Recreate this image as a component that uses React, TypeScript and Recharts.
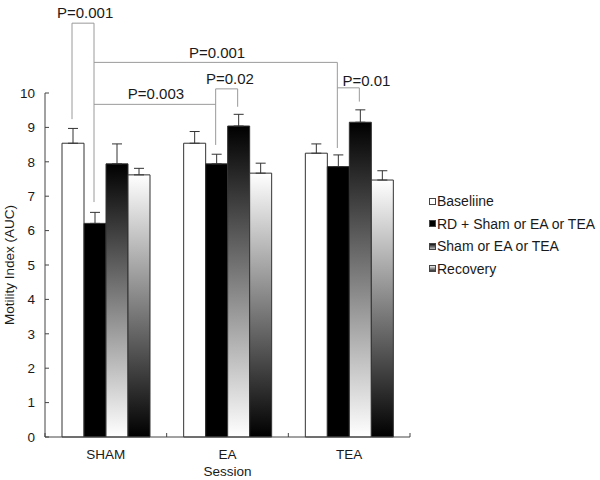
import React from 'react';
import { BarChart, Bar, XAxis, YAxis, ErrorBar, Legend, ReferenceLine, ReferenceDot } from 'recharts';

// ---- data ----
const categories = ['SHAM', 'EA', 'TEA'];
const seriesKeys = ['baseline', 'rdStim', 'stim', 'recovery'];
const seriesNames = ['Baseliine', 'RD + Sham or EA or TEA', 'Sham or EA or TEA', 'Recovery'];
const baseline = [8.54, 8.54, 8.25];
const baselineErr = [0.43, 0.34, 0.27];
const rdStim = [6.21, 7.94, 7.86];
const rdStimErr = [0.32, 0.28, 0.34];
const stim = [7.94, 9.04, 9.15];
const stimErr = [0.58, 0.34, 0.36];
const recovery = [7.62, 7.67, 7.47];
const recoveryErr = [0.19, 0.29, 0.27];
const yTicks = [0, 1, 2, 3, 4, 5, 6, 7, 8, 9, 10];
const boundaryTicks = [0, 1, 2, 3];

// significance brackets: endpoints as [category, bar index] and value (AUC)
const bracketSegments: { a: [number, number]; ya: number; b: [number, number]; yb: number }[] = [
  { a: [0, 0], ya: 9.24, b: [0, 0], yb: 12.03 },
  { a: [0, 0], ya: 12.03, b: [0, 1], yb: 12.03 },
  { a: [0, 1], ya: 12.03, b: [0, 1], yb: 6.83 },
  { a: [0, 1], ya: 10.89, b: [2, 1], yb: 10.89 },
  { a: [2, 1], ya: 10.89, b: [2, 1], yb: 8.4 },
  { a: [0, 1], ya: 9.67, b: [1, 1], yb: 9.67 },
  { a: [1, 1], ya: 10.12, b: [1, 1], yb: 8.49 },
  { a: [1, 1], ya: 10.12, b: [1, 2], yb: 10.12 },
  { a: [1, 2], ya: 10.12, b: [1, 2], yb: 9.6 },
  { a: [2, 1], ya: 10.15, b: [2, 2], yb: 10.15 },
  { a: [2, 2], ya: 10.15, b: [2, 2], yb: 9.75 },
];
const pLabels = ['P=0.001', 'P=0.001', 'P=0.003', 'P=0.02', 'P=0.01'];
const pLabelX = [0.33, 1.414, 0.912, 1.52, 2.642];
const pLabelY = [12.33, 11.16, 9.97, 10.41, 10.36];

// ---- layout ----
const W = 600;
const H = 480;
const MARGIN = { top: 93, right: 190, bottom: 0, left: 0 };
const Y_AXIS_W = 45;
const PLOT_W = W - MARGIN.left - MARGIN.right - Y_AXIS_W;
const BAR = 22;
const BAND = PLOT_W / categories.length;
const OFFSET = Math.floor((BAND - BAR * 4) / 2);
const barX = (cat: number, bar: number) => cat + (OFFSET + BAR * (bar + 0.5)) / BAND;

const FONT = '"Liberation Sans", Arial, Helvetica, sans-serif';
const TEXT = '#1a1a1a';
const AXIS = '#444';
const BRACKET = '#9a9a9a';

const data = categories.map((c, i) => ({
  name: c,
  pos: i + 0.5,
  baseline: baseline[i],
  baselineErr: [0, baselineErr[i]],
  rdStim: rdStim[i],
  rdStimErr: [0, rdStimErr[i]],
  stim: stim[i],
  stimErr: [0, stimErr[i]],
  recovery: recovery[i],
  recoveryErr: [0, recoveryErr[i]],
}));

const swatch: Record<string, React.CSSProperties> = {
  baseline: { background: '#fff' },
  rdStim: { background: '#000' },
  stim: { background: 'linear-gradient(#111, #bbb)' },
  recovery: { background: 'linear-gradient(#eee, #333)' },
};

const LegendContent = (props: any) => {
  const items = [...(props.payload || [])].sort(
    (a: any, b: any) => seriesKeys.indexOf(String(a.dataKey)) - seriesKeys.indexOf(String(b.dataKey))
  );
  return (
    <div style={{ fontFamily: FONT, fontSize: 14, color: TEXT }}>
      {items.map((p: any) => (
        <div
          key={String(p.dataKey)}
          style={{ display: 'flex', alignItems: 'center', height: 22.5, whiteSpace: 'nowrap' }}
        >
          <span
            style={{
              display: 'inline-block',
              width: 5,
              height: 5,
              border: '1px solid #444',
              marginRight: 1,
              ...swatch[String(p.dataKey)],
            }}
          />
          <span>{p.value}</span>
        </div>
      ))}
    </div>
  );
};

const YLabel = (p: any) => {
  const vb = p.viewBox || { x: 0, y: 0, width: 0, height: 0 };
  const cx = vb.x + 9;
  const cy = vb.y + vb.height / 2;
  return (
    <text
      x={cx}
      y={cy}
      transform={`rotate(-90 ${cx} ${cy})`}
      textAnchor="middle"
      dominantBaseline="central"
      fontSize={13.5}
      fontFamily={FONT}
      fill={TEXT}
    >
      Motility Index (AUC)
    </text>
  );
};

const XLabel = (p: any) => {
  const vb = p.viewBox || { x: 0, y: 0, width: 0, height: 0 };
  return (
    <text
      x={vb.x + vb.width / 2}
      y={vb.y + 33}
      textAnchor="middle"
      dominantBaseline="central"
      fontSize={13.5}
      fontFamily={FONT}
      fill={TEXT}
    >
      Session
    </text>
  );
};

const EmptyTick = () => <g />;

export default function App() {
  return (
    <div style={{ position: 'absolute', left: 0, top: 0, width: W, height: H, background: '#fff' }}>
      <BarChart width={W} height={H} data={data} margin={MARGIN} barSize={BAR} barGap={0}>
        <defs>
          <linearGradient id="gradStim" x1="0" y1="0" x2="0" y2="1">
            <stop offset="0%" stopColor="#000" />
            <stop offset="100%" stopColor="#fff" />
          </linearGradient>
          <linearGradient id="gradRec" x1="0" y1="0" x2="0" y2="1">
            <stop offset="0%" stopColor="#fff" />
            <stop offset="100%" stopColor="#000" />
          </linearGradient>
        </defs>
        <XAxis
          xAxisId="b"
          dataKey="pos"
          type="number"
          domain={[0, 3]}
          ticks={boundaryTicks}
          interval={0}
          height={1}
          tick={EmptyTick}
          tickSize={-4}
          tickLine={{ stroke: AXIS }}
          axisLine={{ stroke: AXIS }}
          allowDataOverflow
        />
        <XAxis
          xAxisId="cat"
          dataKey="name"
          height={42}
          axisLine={false}
          tickLine={false}
          tickSize={0}
          tickMargin={11}
          tick={{ fontSize: 13.5, fontFamily: FONT, fill: TEXT }}
          label={{ content: XLabel }}
        />
        <YAxis
          width={Y_AXIS_W}
          domain={[0, 10]}
          ticks={yTicks}
          interval={0}
          tickSize={-4}
          tickMargin={14}
          tickLine={{ stroke: AXIS }}
          axisLine={{ stroke: AXIS }}
          tick={{ fontSize: 13.5, fontFamily: FONT, fill: TEXT }}
          label={{ content: YLabel }}
        />
        <Legend
          layout="vertical"
          align="center"
          verticalAlign="middle"
          content={LegendContent}
          wrapperStyle={{ left: 429, top: 190, width: 170 }}
        />
        <Bar xAxisId="cat" dataKey="baseline" name={seriesNames[0]} fill="#fff" stroke="#333" strokeWidth={1} isAnimationActive={false}>
          <ErrorBar dataKey="baselineErr" width={5} stroke="#333" strokeWidth={1} isAnimationActive={false} />
        </Bar>
        <Bar xAxisId="cat" dataKey="rdStim" name={seriesNames[1]} fill="#000" stroke="#333" strokeWidth={1} isAnimationActive={false}>
          <ErrorBar dataKey="rdStimErr" width={5} stroke="#333" strokeWidth={1} isAnimationActive={false} />
        </Bar>
        <Bar xAxisId="cat" dataKey="stim" name={seriesNames[2]} fill="url(#gradStim)" stroke="#333" strokeWidth={1} isAnimationActive={false}>
          <ErrorBar dataKey="stimErr" width={5} stroke="#333" strokeWidth={1} isAnimationActive={false} />
        </Bar>
        <Bar xAxisId="cat" dataKey="recovery" name={seriesNames[3]} fill="url(#gradRec)" stroke="#333" strokeWidth={1} isAnimationActive={false}>
          <ErrorBar dataKey="recoveryErr" width={5} stroke="#333" strokeWidth={1} isAnimationActive={false} />
        </Bar>
        {bracketSegments.map((s, i) => (
          <ReferenceLine
            key={`seg-${i}`}
            xAxisId="b"
            ifOverflow="visible"
            stroke={BRACKET}
            strokeWidth={1}
            segment={[
              { x: barX(s.a[0], s.a[1]), y: s.ya },
              { x: barX(s.b[0], s.b[1]), y: s.yb },
            ]}
          />
        ))}
        {pLabels.map((t, i) => (
          <ReferenceDot
            key={`p-${i}`}
            xAxisId="b"
            x={pLabelX[i]}
            y={pLabelY[i]}
            r={1}
            fill="none"
            stroke="none"
            ifOverflow="visible"
            label={{ value: t, position: 'center', fontSize: 15, fontFamily: FONT, fill: TEXT }}
          />
        ))}
      </BarChart>
    </div>
  );
}
